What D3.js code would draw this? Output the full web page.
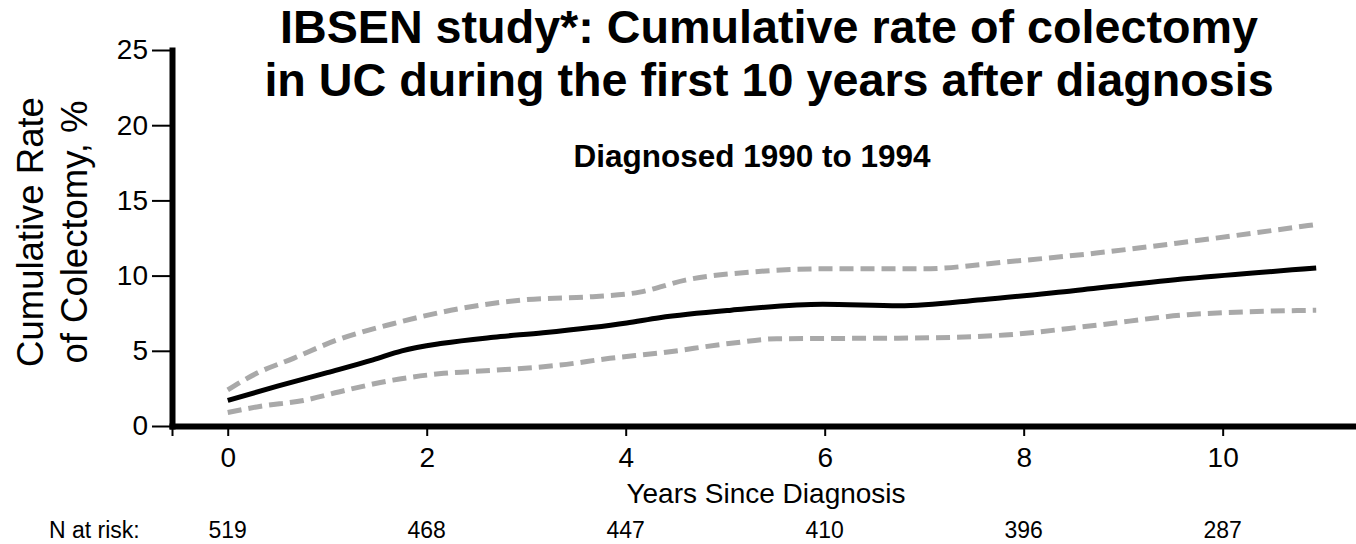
<!DOCTYPE html>
<html>
<head>
<meta charset="utf-8">
<script src="https://cdn.jsdelivr.net/npm/d3@7"></script>
<style>
  body { margin: 0; background: #fff; }
  svg { display: block; font-family: "Liberation Sans", Arial, sans-serif; }
</style>
</head>
<body>
<svg id="chart" width="1356" height="544"></svg>
<script>
// data
var yTicks = [0, 5, 10, 15, 20, 25];
var xTicks = [0, 2, 4, 6, 8, 10];
var atRisk = [519, 468, 447, 410, 396, 287];

var rateYears  = [0, 0.5, 1.0, 1.46, 1.75, 2.16, 2.67, 3.17, 4.01, 4.34, 5.06, 5.98, 6.75, 7.58, 8.5, 9.65, 10.94];
var rate       = [1.7, 2.65, 3.55, 4.4, 5.0, 5.5, 5.9, 6.2, 6.85, 7.2, 7.7, 8.1, 8.0, 8.4, 9.0, 9.8, 10.5];

var upperYears = [0, 0.29, 0.66, 1.09, 1.66, 2.33, 3.0, 3.67, 4.14, 4.6, 5.29, 5.98, 6.98, 7.81, 8.73, 9.65, 10.94];
var upper      = [2.4, 3.5, 4.5, 5.7, 6.8, 7.8, 8.4, 8.6, 8.9, 9.7, 10.25, 10.45, 10.45, 10.9, 11.5, 12.25, 13.4];

var lowerYears = [0, 0.32, 0.76, 1.2, 1.66, 2.17, 2.67, 3.34, 3.84, 4.34, 5.06, 5.52, 6.9, 7.81, 8.73, 9.65, 10.94];
var lower      = [0.9, 1.3, 1.7, 2.4, 3.05, 3.5, 3.7, 4.05, 4.5, 4.85, 5.5, 5.8, 5.85, 6.05, 6.7, 7.4, 7.7];

var svg = d3.select("#chart");

var x = d3.scaleLinear().domain([-0.56, 11.34]).range([172, 1356]);
var y = d3.scaleLinear().domain([0, 25]).range([426, 50]);

// titles
svg.append("text")
  .attr("x", 769).attr("y", 43)
  .attr("text-anchor", "middle")
  .style("font-size", "46.7px").style("font-weight", "bold")
  .text("IBSEN study*: Cumulative rate of colectomy");
svg.append("text")
  .attr("x", 769).attr("y", 96)
  .attr("text-anchor", "middle")
  .style("font-size", "46.7px").style("font-weight", "bold")
  .text("in UC during the first 10 years after diagnosis");
svg.append("text")
  .attr("x", 752).attr("y", 167)
  .attr("text-anchor", "middle")
  .style("font-size", "31.5px").style("font-weight", "bold")
  .text("Diagnosed 1990 to 1994");

// lines
var line = d3.line()
  .x(function(d){ return x(d[0]); })
  .y(function(d){ return y(d[1]); })
  .curve(d3.curveMonotoneX);

function pairs(xs, ys){
  return xs.map(function(v, i){ return [v, ys[i]]; });
}

svg.append("path")
  .datum(pairs(upperYears, upper))
  .attr("fill", "none")
  .attr("stroke", "#a9a9a9")
  .attr("stroke-width", 5)
  .attr("stroke-dasharray", "14,7")
  .attr("d", line);
svg.append("path")
  .datum(pairs(lowerYears, lower))
  .attr("fill", "none")
  .attr("stroke", "#a9a9a9")
  .attr("stroke-width", 5)
  .attr("stroke-dasharray", "14,7")
  .attr("d", line);
svg.append("path")
  .datum(pairs(rateYears, rate))
  .attr("fill", "none")
  .attr("stroke", "#000")
  .attr("stroke-width", 5)
  .attr("d", line);

// axes
var yAxis = svg.append("g")
  .attr("transform", "translate(172,0)")
  .call(d3.axisLeft(y).tickValues(yTicks).tickSize(20).tickSizeOuter(0).tickPadding(4));

var xAxis = svg.append("g")
  .attr("transform", "translate(0,426)")
  .call(d3.axisBottom(x)
    .tickValues([x.domain()[0]].concat(xTicks))
    .tickFormat(function(d){ return d < 0 ? "" : d; })
    .tickSize(10).tickSizeOuter(0).tickPadding(11));

[yAxis, xAxis].forEach(function(g){
  g.select(".domain").attr("stroke-width", 6).attr("stroke-linecap", "square");
  g.selectAll(".tick line").attr("stroke-width", 2);
  g.selectAll(".tick text")
    .style("font-family", "'Liberation Sans', Arial, sans-serif")
    .style("font-size", "28px").attr("fill", "#000");
});

// axis titles
svg.append("text")
  .attr("transform", "translate(43,232) rotate(-90)")
  .attr("text-anchor", "middle")
  .style("font-size", "36.5px")
  .text("Cumulative Rate");
svg.append("text")
  .attr("transform", "translate(87,232) rotate(-90)")
  .attr("text-anchor", "middle")
  .style("font-size", "36.5px")
  .text("of Colectomy, %");

svg.append("text")
  .attr("x", 766).attr("y", 503)
  .attr("text-anchor", "middle")
  .style("font-size", "28px")
  .text("Years Since Diagnosis");

// numbers at risk
svg.append("text")
  .attr("x", 49).attr("y", 538)
  .style("font-size", "23px")
  .text("N at risk:");
svg.selectAll(".risk")
  .data(atRisk)
  .enter().append("text")
  .attr("class", "risk")
  .attr("x", function(d, i){ return x(xTicks[i]); })
  .attr("y", 538)
  .attr("text-anchor", "middle")
  .style("font-size", "23px")
  .text(function(d){ return d; });
</script>
</body>
</html>
